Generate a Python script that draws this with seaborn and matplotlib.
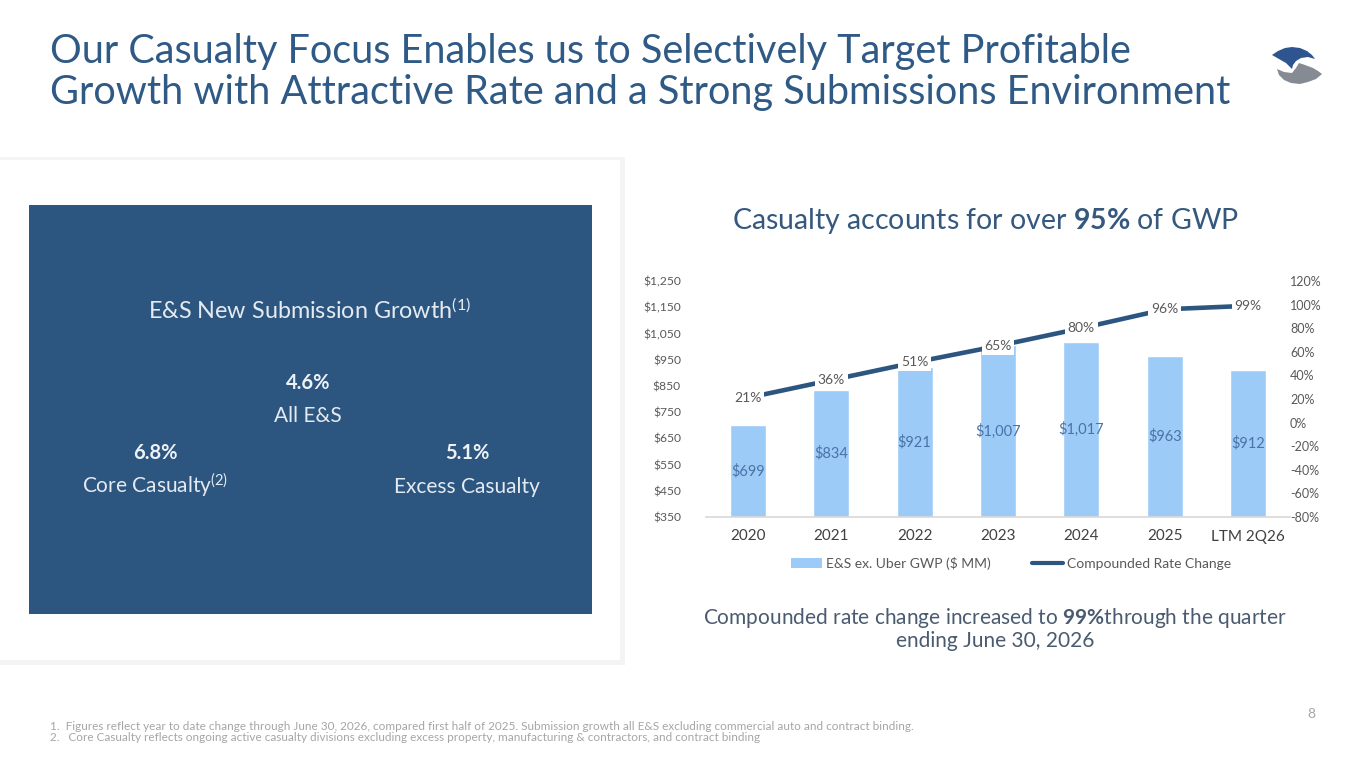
import matplotlib
matplotlib.use('Agg')
import matplotlib.pyplot as plt
import seaborn as sns
import pandas as pd
import numpy as np
from matplotlib.patches import Rectangle, Polygon, Patch
from matplotlib.lines import Line2D
from matplotlib.ticker import FuncFormatter

# data
periods = ['2020', '2021', '2022', '2023', '2024', '2025', 'LTM 2Q26']
gwp = [699, 834, 921, 1007, 1017, 963, 912]          # E&S ex. Uber GWP ($ MM)
rate_change = [21, 36, 51, 65, 80, 96, 99]           # compounded rate change (%)
left_ticks = list(range(350, 1251, 100))
right_ticks = list(range(-80, 121, 20))

panel_title = 'E&S New Submission Growth$^{(1)}$'
panel_items = [('4.6%', 'All E&S'), ('6.8%', 'Core Casualty$^{(2)}$'), ('5.1%', 'Excess Casualty')]

footnotes = [
    '1.  Figures reflect year to date change through June 30, 2026, compared first half of 2025. '
    'Submission growth all E&S excluding commercial auto and contract binding.',
    '2.   Core Casualty reflects ongoing active casualty divisions excluding excess property, '
    'manufacturing & contractors, and contract binding',
]

BAR = '#9DCBF8'
NAVY = '#2C5680'
TITLE = '#2F5A86'
GREY = '#595959'

sns.set_theme(style='white')
plt.rcParams['font.family'] = ['Lato', 'DejaVu Sans']
plt.rcParams['mathtext.fontset'] = 'custom'
plt.rcParams['mathtext.rm'] = 'Lato'
plt.rcParams['mathtext.it'] = 'Lato:italic'
plt.rcParams['mathtext.bf'] = 'Lato:bold'
plt.rcParams['mathtext.sf'] = 'Lato'

W, H = 1365, 768
fig = plt.figure(figsize=(13.65, 7.68), dpi=100)
fig.patch.set_facecolor('white')


def fx(px):
    return px / W


def fy(py):
    return 1 - py / H


def rect(x0, y0, x1, y1, color, z=0):
    fig.patches.append(Rectangle((fx(x0), fy(y1)), (x1 - x0) / W, (y1 - y0) / H,
                                 transform=fig.transFigure, facecolor=color,
                                 edgecolor='none', zorder=z))


# title
fig.text(fx(50), fy(63), 'Our Casualty Focus Enables us to Selectively Target Profitable',
         fontsize=28.5, color=TITLE, va='baseline')
fig.text(fx(50), fy(104), 'Growth with Attractive Rate and a Strong Submissions Environment',
         fontsize=28.5, color=TITLE, va='baseline')

# logo
top = [(1272, 55), (1278, 51), (1285, 48), (1292, 47), (1300, 48), (1307, 51), (1312, 55),
       (1315, 59), (1308, 57), (1301, 58), (1296, 61), (1293, 65), (1292, 69), (1286, 63),
       (1279, 59)]
bot = [(1277, 69), (1284, 72), (1292, 73), (1296, 68), (1299, 63), (1305, 65), (1313, 68),
       (1318, 71), (1322, 74), (1316, 79), (1308, 82), (1300, 84), (1291, 83), (1284, 80),
       (1279, 75)]
for pts, c in [(top, '#2E5590'), (bot, '#858A93')]:
    fig.patches.append(Polygon([(fx(a), fy(b)) for a, b in pts], closed=True,
                               transform=fig.transFigure, facecolor=c, edgecolor='none'))

# left card
rect(0, 157, 625, 665, '#F4F4F4')
rect(0, 160, 620, 660, 'white')
rect(29, 205, 592, 614, NAVY)
fig.text(fx(310), fy(319), panel_title, fontsize=16.8, color='#E4EAF1', ha='center', va='baseline')
spots = [(308, 389, 422), (155, 459, 493), (467, 459, 493)]
for (num, lab), (cx, y1, y2) in zip(panel_items, spots):
    fig.text(fx(cx), fy(y1), num, fontsize=14.5, fontweight='bold', color='#EEF2F7',
             ha='center', va='baseline')
    fig.text(fx(cx), fy(y2), lab, fontsize=15, color='#E4EAF1', ha='center', va='baseline')

# chart title
fig.text(fx(985), fy(229), r'Casualty accounts for over $\mathbf{95\%}$ of GWP',
         fontsize=20.5, color='#34587E', ha='center', va='baseline')

# chart
df = pd.DataFrame({'period': periods, 'gwp': gwp, 'rate': rate_change})
ax = fig.add_axes([fx(706), fy(517), 584 / W, 236 / H])
sns.barplot(data=df, x='period', y='gwp', color=BAR, saturation=1, width=0.43, ax=ax)
ymin, ymax = left_ticks[0], left_ticks[-1]
ax.set_ylim(ymin, ymax)
ax.set_yticks(left_ticks)
ax.yaxis.set_major_formatter(FuncFormatter(lambda v, p: f'${v:,.0f}'))
ax.set_xlim(-0.5, len(periods) - 0.5)
ax.set_xlabel('')
ax.set_ylabel('')
for i, v in enumerate(gwp):
    ax.text(i, (ymin + v) / 2, f'${v:,}', ha='center', va='center', fontsize=10.5, color='#4A72A8')
for s in ['top', 'left', 'right']:
    ax.spines[s].set_visible(False)
ax.spines['bottom'].set_color('#D9D9D9')
ax.tick_params(axis='y', length=0, pad=18, labelsize=8.7, labelcolor=GREY)
ax.tick_params(axis='x', length=0, pad=9, labelsize=11, labelcolor='#404040')

ax2 = ax.twinx()
sns.lineplot(x=np.arange(len(periods)), y=rate_change, ax=ax2, color=NAVY, lw=3.3)
ax2.set_ylim(right_ticks[0], right_ticks[-1])
ax2.set_yticks(right_ticks)
ax2.yaxis.set_major_formatter(FuncFormatter(lambda v, p: f'{v:.0f}%'))
ax2.set_ylabel('')
ax2.tick_params(axis='y', length=0, pad=0, labelsize=9, labelcolor=GREY)
for s in ax2.spines.values():
    s.set_visible(False)
for i, v in enumerate(rate_change):
    ax2.text(i, v, f'{v}%', ha='center', va='center', fontsize=10, color=GREY,
             bbox=dict(boxstyle='square,pad=0.2', fc='white', ec='none'))

handles = [Patch(facecolor=BAR, edgecolor='none'), Line2D([], [], color=NAVY, lw=3)]
fig.legend(handles, ['E&S ex. Uber GWP ($ MM)', 'Compounded Rate Change'], loc='center',
           bbox_to_anchor=(fx(1011), fy(563)), ncol=2, frameon=False, fontsize=10,
           labelcolor=GREY, handlelength=2.2, handletextpad=0.3, columnspacing=3)

# note under chart
fig.text(fx(995), fy(624), r'Compounded rate change increased to $\mathbf{99\%}$through the quarter',
         fontsize=15, color='#4A5B70', ha='center', va='baseline')
fig.text(fx(995), fy(647), 'ending June 30, 2026', fontsize=15, color='#4A5B70',
         ha='center', va='baseline')

# footnotes, page number
fig.text(fx(50), fy(730), footnotes[0], fontsize=8.5, color='#A6A6A6', va='baseline')
fig.text(fx(50), fy(741), footnotes[1], fontsize=8.5, color='#A6A6A6', va='baseline')
fig.text(fx(1311), fy(718), '8', fontsize=10, color='#A6A6A6', ha='center', va='baseline')

fig.savefig('out.png', dpi=100)
